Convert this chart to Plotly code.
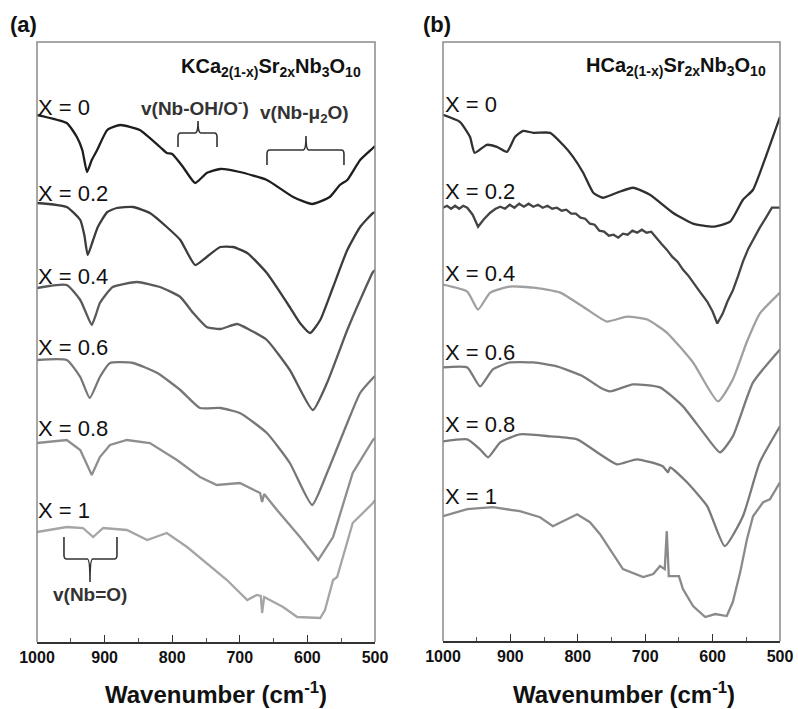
import plotly.graph_objects as go

# ---------------- data (wavenumber cm^-1, transmittance a.u. with offsets) ----------------
labels = ["X = 0", "X = 0.2", "X = 0.4", "X = 0.6", "X = 0.8", "X = 1"]

# Panel (a): KCa2(1-x)Sr2xNb3O10
a0_wn = [1000, 956, 941, 933, 926, 919, 911, 896, 877, 848, 818, 808, 800, 784, 766, 749, 729, 700, 660, 621, 593, 567, 552, 541, 522, 503, 500]
a0_t = [5.27, 5.19, 5.05, 4.92, 4.70, 4.82, 4.92, 5.12, 5.17, 5.12, 4.95, 4.89, 4.88, 4.75, 4.59, 4.69, 4.73, 4.70, 4.62, 4.45, 4.38, 4.45, 4.57, 4.62, 4.82, 4.94, 4.96]

a2_wn = [1000, 956, 936, 930, 925, 917, 910, 896, 882, 858, 833, 808, 788, 766, 749, 729, 710, 689, 660, 630, 611, 596, 581, 562, 541, 522, 503, 500]
a2_t = [4.39, 4.35, 4.22, 4.07, 3.87, 4.02, 4.15, 4.30, 4.34, 4.35, 4.29, 4.15, 4.02, 3.77, 3.85, 3.95, 3.95, 3.89, 3.69, 3.39, 3.19, 3.09, 3.22, 3.55, 3.92, 4.15, 4.29, 4.30]

a4_wn = [1000, 956, 936, 928, 919, 913, 907, 888, 852, 818, 788, 769, 749, 729, 704, 685, 660, 626, 592, 571, 541, 522, 503, 500]
a4_t = [3.54, 3.57, 3.42, 3.30, 3.17, 3.27, 3.39, 3.55, 3.60, 3.55, 3.45, 3.29, 3.15, 3.13, 3.18, 3.12, 3.02, 2.72, 2.32, 2.59, 3.12, 3.42, 3.70, 3.72]

a6_wn = [1000, 956, 936, 922, 907, 892, 858, 822, 788, 759, 729, 700, 660, 626, 593, 571, 541, 522, 503, 500]
a6_t = [2.82, 2.82, 2.65, 2.44, 2.65, 2.79, 2.79, 2.69, 2.52, 2.34, 2.34, 2.29, 2.09, 1.79, 1.37, 1.69, 2.19, 2.49, 2.64, 2.66]

a8_wn = [1000, 956, 936, 919, 907, 892, 867, 833, 793, 759, 734, 700, 670, 667, 664, 645, 611, 584, 562, 533, 503, 500]
a8_t = [1.99, 2.02, 1.92, 1.67, 1.85, 1.97, 2.02, 1.99, 1.82, 1.65, 1.57, 1.59, 1.49, 1.40, 1.48, 1.32, 1.05, 0.82, 1.05, 1.69, 2.02, 2.04]

a10_wn = [1000, 956, 932, 917, 902, 867, 837, 808, 778, 749, 719, 689, 675, 669, 667, 664, 636, 615, 581, 574, 562, 556, 533, 503, 500]
a10_t = [1.10, 1.15, 1.14, 1.05, 1.14, 1.12, 1.02, 1.09, 0.95, 0.79, 0.62, 0.42, 0.47, 0.46, 0.29, 0.45, 0.35, 0.25, 0.24, 0.32, 0.62, 0.65, 1.19, 1.39, 1.42]

# Panel (b): HCa2(1-x)Sr2xNb3O10
b0_wn = [1000, 975, 960, 953, 935, 920, 905, 893, 881, 866, 841, 822, 807, 792, 777, 763, 742, 718, 693, 659, 629, 599, 574, 555, 540, 519, 500]
b0_t = [5.27, 5.20, 5.05, 4.89, 4.97, 4.95, 4.90, 5.05, 5.11, 5.09, 5.09, 4.97, 4.85, 4.69, 4.49, 4.44, 4.49, 4.54, 4.47, 4.29, 4.18, 4.15, 4.20, 4.42, 4.52, 4.89, 5.25]

b2_wn = [1000, 994, 988, 982, 976, 970, 964, 956, 948, 940, 930, 922, 915, 908, 901, 894, 887, 880, 873, 866, 859, 852, 845, 838, 831, 824, 817, 810, 803, 796, 789, 782, 775, 768, 761, 754, 747, 740, 733, 726, 719, 712, 705, 698, 691, 684, 676, 668, 660, 652, 644, 636, 628, 619, 608, 600, 593, 585, 578, 570, 562, 555, 547, 540, 530, 519, 512, 507, 500]
b2_t = [4.34, 4.36, 4.33, 4.36, 4.33, 4.36, 4.34, 4.27, 4.15, 4.22, 4.29, 4.33, 4.35, 4.33, 4.37, 4.34, 4.38, 4.35, 4.38, 4.35, 4.37, 4.34, 4.36, 4.33, 4.34, 4.31, 4.32, 4.28, 4.28, 4.24, 4.23, 4.18, 4.17, 4.11, 4.10, 4.06, 4.07, 4.04, 4.08, 4.07, 4.11, 4.09, 4.12, 4.09, 4.10, 4.04, 3.98, 3.92, 3.85, 3.80, 3.72, 3.66, 3.58, 3.50, 3.40, 3.30, 3.18, 3.28, 3.40, 3.51, 3.66, 3.80, 3.93, 4.02, 4.14, 4.26, 4.34, 4.34, 4.34]

b4_wn = [1000, 964, 948, 930, 901, 866, 826, 786, 757, 727, 697, 668, 629, 592, 570, 549, 530, 500]
b4_t = [3.57, 3.50, 3.32, 3.49, 3.55, 3.54, 3.49, 3.32, 3.20, 3.25, 3.22, 3.09, 2.79, 2.40, 2.62, 3.00, 3.28, 3.49]

b6_wn = [1000, 964, 945, 926, 901, 866, 831, 792, 767, 752, 718, 678, 644, 614, 589, 570, 540, 500]
b6_t = [2.74, 2.74, 2.55, 2.72, 2.79, 2.79, 2.75, 2.65, 2.54, 2.50, 2.57, 2.54, 2.35, 2.09, 1.89, 2.05, 2.59, 2.92]

b8_wn = [1000, 964, 945, 933, 915, 886, 841, 801, 767, 742, 712, 674, 666, 663, 638, 608, 582, 555, 530, 500]
b8_t = [2.00, 2.02, 1.92, 1.84, 1.99, 2.07, 2.05, 2.02, 1.87, 1.77, 1.82, 1.75, 1.69, 1.74, 1.59, 1.35, 0.95, 1.25, 1.79, 2.15]

b10_wn = [1000, 964, 926, 886, 856, 837, 816, 801, 782, 767, 733, 703, 688, 678, 671, 668, 665, 650, 644, 629, 611, 596, 579, 570, 559, 549, 540, 525, 515, 500]
b10_t = [1.25, 1.32, 1.34, 1.30, 1.24, 1.15, 1.22, 1.27, 1.19, 1.07, 0.72, 0.64, 0.67, 0.75, 0.72, 1.10, 0.65, 0.65, 0.52, 0.35, 0.24, 0.27, 0.25, 0.39, 0.69, 1.02, 1.25, 1.39, 1.42, 1.59]

a_series = [(a0_wn, a0_t), (a2_wn, a2_t), (a4_wn, a4_t), (a6_wn, a6_t), (a8_wn, a8_t), (a10_wn, a10_t)]
b_series = [(b0_wn, b0_t), (b2_wn, b2_t), (b4_wn, b4_t), (b6_wn, b6_t), (b8_wn, b8_t), (b10_wn, b10_t)]
a_colors = ["#1e1e1e", "#3c3c3c", "#5a5a5a", "#777777", "#8e8e8e", "#a5a5a5"]
b_colors = ["#303030", "#444444", "#a0a0a0", "#7a7a7a", "#7a7a7a", "#8a8a8a"]
a_shapes = ["spline", "spline", "spline", "spline", "linear", "linear"]
b_shapes = ["spline", "linear", "spline", "spline", "spline", "linear"]
a_label_y = [5.35, 4.49, 3.66, 2.95, 2.14, 1.32]
b_label_y = [5.37, 4.50, 3.68, 2.89, 2.17, 1.45]

tick_vals = [1000, 900, 800, 700, 600, 500]
tick_text = ["1000", "900", "800", "700", "600", "500"]

FONT = "Liberation Sans, Arial, sans-serif"

fig = go.Figure()
for (wn, t), c, sh in zip(a_series, a_colors, a_shapes):
    fig.add_trace(go.Scatter(x=wn, y=t, mode="lines", line=dict(color=c, width=2.3, shape=sh, smoothing=0.5),
                             xaxis="x", yaxis="y", showlegend=False, hoverinfo="skip"))
for (wn, t), c, sh in zip(b_series, b_colors, b_shapes):
    fig.add_trace(go.Scatter(x=wn, y=t, mode="lines", line=dict(color=c, width=2.3, shape=sh, smoothing=0.5),
                             xaxis="x2", yaxis="y2", showlegend=False, hoverinfo="skip"))

xa = dict(range=[1000, 500], showgrid=False, zeroline=False, showline=True, linecolor="#333", linewidth=1.5,
          ticks="inside", ticklen=7, tickcolor="#333", tickwidth=1.2, automargin=False,
          tickvals=tick_vals, ticktext=tick_text,
          minor=dict(ticks="inside", ticklen=4, dtick=50, tickcolor="#555", tickwidth=1),
          tickfont=dict(family=FONT, size=16, color="#111", weight="bold"))
ya = dict(range=[0, 6.0], showgrid=False, zeroline=False, showticklabels=False, showline=False, ticks="",
          automargin=False)

fig.update_layout(
    width=798, height=709, margin=dict(l=0, r=0, t=0, b=0, autoexpand=False),
    paper_bgcolor="white", plot_bgcolor="white",
    xaxis=dict(xa, domain=[37/798, 375/798], anchor="y"),
    yaxis=dict(ya, domain=[67/709, 667/709], anchor="x"),
    xaxis2=dict(xa, domain=[443/798, 780/798], anchor="y2"),
    yaxis2=dict(ya, domain=[68/709, 667/709], anchor="x2"),
    font=dict(family=FONT),
)

# frames (gray left/top/right)
for xr, yr in [("x domain", "y domain"), ("x2 domain", "y2 domain")]:
    fig.add_shape(type="path", xref=xr, yref=yr, path="M 0 0 L 0 1 L 1 1 L 1 0",
                  line=dict(color="#8a8a8a", width=1.5))

# X labels
for lab, yv in zip(labels, a_label_y):
    fig.add_annotation(x=1000, y=yv, xref="x", yref="y", text=lab, showarrow=False, xanchor="left",
                       yanchor="middle", xshift=-1, font=dict(family=FONT, size=22, color="#111"))
for lab, yv in zip(labels, b_label_y):
    fig.add_annotation(x=1000, y=yv, xref="x2", yref="y2", text=lab, showarrow=False, xanchor="left",
                       yanchor="middle", xshift=0, font=dict(family=FONT, size=22, color="#111"))

# compound titles
fig.add_annotation(x=517.8, y=5.75, xref="x", yref="y", text="KCa<sub>2(1-x)</sub>Sr<sub>2x</sub>Nb<sub>3</sub>O<sub>10</sub>",
                   showarrow=False, xanchor="right", yanchor="middle", font=dict(family=FONT, size=20, color="#111", weight="bold"))
fig.add_annotation(x=517.8, y=5.75, xref="x2", yref="y2", text="HCa<sub>2(1-x)</sub>Sr<sub>2x</sub>Nb<sub>3</sub>O<sub>10</sub>",
                   showarrow=False, xanchor="right", yanchor="middle", font=dict(family=FONT, size=20, color="#111", weight="bold"))

# band annotations
ann_font = dict(family=FONT, size=19, color="#333", weight="bold")
fig.add_annotation(x=766.3, y=5.35, xref="x", yref="y", text="v(Nb-OH/O<sup>-</sup>)", showarrow=False,
                   xanchor="center", yanchor="middle", font=ann_font)
fig.add_annotation(x=603.6, y=5.28, xref="x", yref="y", text="v(Nb-μ<sub>2</sub>O)", showarrow=False,
                   xanchor="center", yanchor="middle", font=ann_font)
fig.add_annotation(x=921.6, y=0.48, xref="x", yref="y", text="v(Nb=O)", showarrow=False,
                   xanchor="center", yanchor="middle", font=ann_font)


def brace(x1, x2, xm, yh, yend, ytip, dx, dy):
    # horizontal brace with rounded corners; ends go to yend, tip goes to ytip
    s1 = -1 if x1 > x2 else 1
    yc = yh - dy if yend < yh else yh + dy
    return (f"M {x1} {yend} L {x1} {yc} Q {x1} {yh} {x1 + s1*dx} {yh} "
            f"L {xm - s1*dx} {yh} Q {xm} {yh} {xm} {ytip} Q {xm} {yh} {xm + s1*dx} {yh} "
            f"L {x2 - s1*dx} {yh} Q {x2} {yh} {x2} {yc} L {x2} {yend}")

br_line = dict(color="#333", width=1.6)
fig.add_shape(type="path", xref="x", yref="y", path=brace(791.4, 733.7, 761.8, 5.09, 4.95, 5.21, 4, 0.04), line=br_line)
fig.add_shape(type="path", xref="x", yref="y", path=brace(659.8, 545.9, 602.1, 4.92, 4.77, 5.06, 4, 0.04), line=br_line)
fig.add_shape(type="path", xref="x", yref="y", path=brace(960.1, 881.7, 921.6, 0.83, 1.05, 0.60, 4, 0.04), line=br_line)

# panel letters
fig.add_annotation(x=23/798, y=(709-25)/709, xref="paper", yref="paper", text="(a)", showarrow=False,
                   xanchor="center", yanchor="middle",
                   font=dict(family=FONT, size=22, color="#111", weight="bold"))
fig.add_annotation(x=437/798, y=(709-25)/709, xref="paper", yref="paper", text="(b)", showarrow=False,
                   xanchor="center", yanchor="middle",
                   font=dict(family=FONT, size=22, color="#111", weight="bold"))

# axis titles
for cx in [216, 624]:
    fig.add_annotation(x=cx/798, y=(709-693)/709, xref="paper", yref="paper", text="Wavenumber (cm<sup>-1</sup>)",
                       showarrow=False, xanchor="center", yanchor="middle",
                       font=dict(family=FONT, size=24, color="#111", weight="bold"))

fig.write_html("out.html")
